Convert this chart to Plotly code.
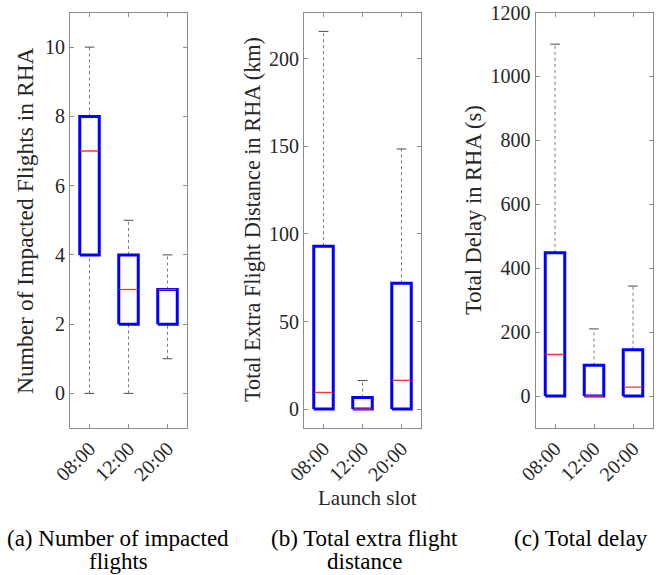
import plotly.graph_objects as go

categories = ["08:00", "12:00", "20:00"]
positions = [1, 2, 3]

# Panel (a): Number of impacted flights
a_low = [0, 0, 1]
a_q1 = [4, 2, 2]
a_med = [7, 3, 3]
a_q3 = [8, 4, 3]
a_high = [10, 5, 4]

# Panel (b): Total extra flight distance (km)
b_low = [0, 0, 0]
b_q1 = [0, 0, 0]
b_med = [9.5, 0, 16.4]
b_q3 = [93, 6.6, 71.8]
b_high = [215.6, 16.3, 148.5]

# Panel (c): Total delay (s)
c_low = [0, 0, 0]
c_q1 = [0, 0, 0]
c_med = [130, 0, 28]
c_q3 = [448, 96, 145]
c_high = [1101, 210, 344]

y_titles = ["Number of Impacted Flights in RHA",
            "Total Extra Flight Distance in RHA (km)",
            "Total Delay in RHA (s)"]
y_ranges = [[-1, 11], [-10.8, 226.4], [-100, 1200]]
y_ticks = [[0, 2, 4, 6, 8, 10], [0, 50, 100, 150, 200], [0, 200, 400, 600, 800, 1000, 1200]]
captions = [["(a) Number of impacted", "flights"],
            ["(b) Total extra flight", "distance"],
            ["(c) Total delay"]]

W, H = 666, 575
FONT = "Liberation Serif"
TXT = "#262626"
FRAME = "#8c8c8c"

panels_px = [(70, 187), (304, 421), (535.5, 652.5)]
y_px = (12.5, 428)
ydom = [1 - y_px[1] / H, 1 - y_px[0] / H]

data = [(a_low, a_q1, a_med, a_q3, a_high),
        (b_low, b_q1, b_med, b_q3, b_high),
        (c_low, c_q1, c_med, c_q3, c_high)]

fig = go.Figure()
bw = 0.25  # half box width
cw = 0.125  # half cap width

for p, (low, q1, med, q3, high) in enumerate(data):
    xa = "x" if p == 0 else f"x{p+1}"
    ya = "y" if p == 0 else f"y{p+1}"
    for i, xc in enumerate(positions):
        # whiskers (dotted)
        fig.add_trace(go.Scatter(x=[xc, xc, None, xc, xc], y=[q3[i], high[i], None, low[i], q1[i]],
                                 mode="lines", line=dict(color="#7a7a7a", width=1, dash="dot"),
                                 xaxis=xa, yaxis=ya, showlegend=False, hoverinfo="skip"))
        # caps
        fig.add_trace(go.Scatter(x=[xc - cw, xc + cw, None, xc - cw, xc + cw],
                                 y=[high[i], high[i], None, low[i], low[i]],
                                 mode="lines", line=dict(color="#4d4d4d", width=1),
                                 xaxis=xa, yaxis=ya, showlegend=False, hoverinfo="skip"))
        # box
        fig.add_trace(go.Scatter(x=[xc - bw, xc + bw, xc + bw, xc - bw, xc - bw],
                                 y=[q1[i], q1[i], q3[i], q3[i], q1[i]],
                                 mode="lines", line=dict(color="#0000ff", width=3),
                                 xaxis=xa, yaxis=ya, showlegend=False, hoverinfo="skip"))
        # median
        fig.add_trace(go.Scatter(x=[xc - bw + 0.02, xc + bw - 0.02], y=[med[i], med[i]],
                                 mode="lines", line=dict(color="#ff3030", width=1.3),
                                 xaxis=xa, yaxis=ya, showlegend=False, hoverinfo="skip"))

layout = dict(width=W, height=H, margin=dict(l=0, r=0, t=0, b=0, autoexpand=False),
              paper_bgcolor="white", plot_bgcolor="white", showlegend=False,
              font=dict(family=FONT, color=TXT, size=20))

annotations = []
title_x = [25, 252, 473]
title_y = [221, 220, 210]
title_size = [23.5, 22.3, 22.5]
cap_x = [118, 364, 581]
for p in range(3):
    xk = "xaxis" if p == 0 else f"xaxis{p+1}"
    yk = "yaxis" if p == 0 else f"yaxis{p+1}"
    x0, x1 = panels_px[p]
    layout[xk] = dict(domain=[x0 / W, x1 / W], range=[0.5, 3.5],
                      tickvals=positions, ticktext=categories, tickangle=-45,
                      showline=True, mirror="ticks", linecolor=FRAME, linewidth=1,
                      ticks="inside", ticklen=4, tickcolor=FRAME, automargin=False,
                      showgrid=False, zeroline=False, fixedrange=True,
                      anchor="y" if p == 0 else f"y{p+1}",
                      tickfont=dict(family=FONT, size=20, color=TXT))
    layout[yk] = dict(domain=ydom, range=y_ranges[p], tickvals=y_ticks[p],
                      showline=True, mirror="ticks", linecolor=FRAME, linewidth=1,
                      ticks="inside", ticklen=4, tickcolor=FRAME, automargin=False,
                      showgrid=False, zeroline=False, fixedrange=True,
                      anchor="x" if p == 0 else f"x{p+1}",
                      tickfont=dict(family=FONT, size=20, color=TXT))
    annotations.append(dict(x=title_x[p] / W, y=1 - title_y[p] / H,
                            xref="paper", yref="paper", text=y_titles[p], textangle=-90,
                            showarrow=False, font=dict(family=FONT, size=title_size[p], color=TXT),
                            xanchor="center", yanchor="middle"))
    for j, line in enumerate(captions[p]):
        annotations.append(dict(x=cap_x[p] / W, y=1 - (538 + 23 * j) / H,
                                xref="paper", yref="paper", text=line, showarrow=False,
                                font=dict(family=FONT, size=23, color="black"),
                                xanchor="center", yanchor="middle"))

annotations.append(dict(x=367 / W, y=1 - 498 / H, xref="paper", yref="paper",
                        text="Launch slot", showarrow=False,
                        font=dict(family=FONT, size=21, color=TXT),
                        xanchor="center", yanchor="middle"))
layout["annotations"] = annotations

fig.update_layout(**layout)
fig.write_html("out.html", config={"displayModeBar": False},
               post_script="document.body.style.margin='0';")
